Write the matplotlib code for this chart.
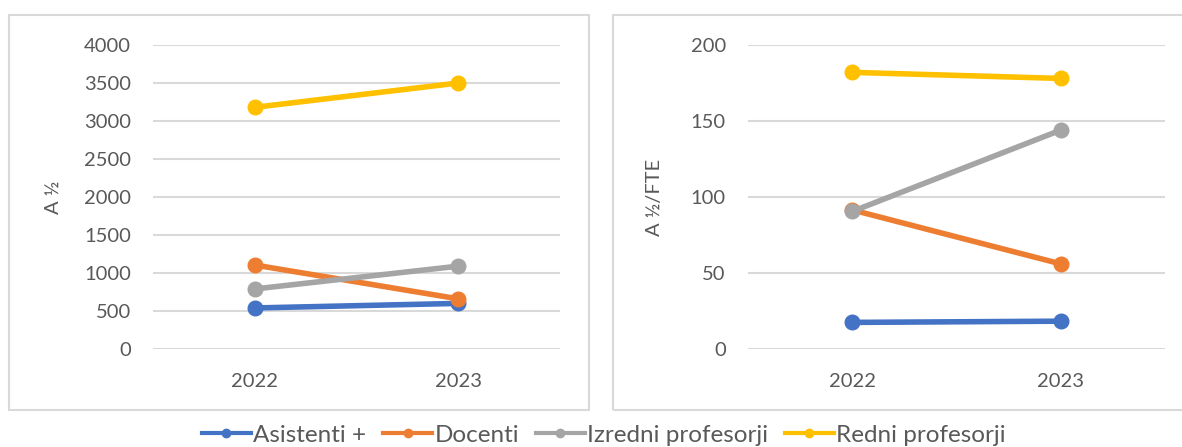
import matplotlib.pyplot as plt
from matplotlib.patches import Rectangle
from matplotlib.lines import Line2D

plt.rcParams['font.family'] = ['Lato', 'DejaVu Sans']

years = ['2022', '2023']
series_names = ['Asistenti +', 'Docenti', 'Izredni profesorji', 'Redni profesorji']
colors = ['#4472C4', '#ED7D31', '#A5A5A5', '#FFC000']

# left panel: A 1/2
left_asistenti = [540, 600]
left_docenti = [1105, 660]
left_izredni = [790, 1090]
left_redni = [3180, 3500]

# right panel: A 1/2 / FTE
right_asistenti = [17.5, 18.3]
right_docenti = [91.5, 56]
right_izredni = [90.5, 144]
right_redni = [182, 178]

left_data = [left_asistenti, left_docenti, left_izredni, left_redni]
right_data = [right_asistenti, right_docenti, right_izredni, right_redni]

text_col = '#595959'
grid_col = '#d9d9d9'

W, H = 1182, 447
fig = plt.figure(figsize=(W / 100, H / 100), dpi=100)

# chart area frames
for x0, x1 in [(9, 589), (613, 1190)]:
    fig.patches.append(Rectangle((x0 / W, 1 - 409.5 / H), (x1 - x0) / W, 394.5 / H,
                                 transform=fig.transFigure, fill=False,
                                 edgecolor=grid_col, linewidth=1.5))


def draw_panel(ax, data, ylim, yticks, ylabel):
    for vals, name, c in zip(data, series_names, colors):
        ax.plot(range(len(years)), vals, color=c, linewidth=4, marker='o',
                markersize=10.5, label=name, solid_capstyle='round')
    ax.set_xlim(-0.5, len(years) - 0.5)
    ax.set_ylim(*ylim)
    ax.set_yticks(yticks)
    ax.set_xticks(range(len(years)))
    ax.set_xticklabels(years)
    ax.grid(axis='y', color=grid_col, linewidth=1.5)
    ax.set_axisbelow(True)
    for s in ax.spines.values():
        s.set_visible(False)
    ax.tick_params(length=0, labelsize=14.5, colors=text_col)
    ax.tick_params(axis='y', pad=16)
    ax.tick_params(axis='x', pad=17)
    ax.set_ylabel(ylabel, fontsize=14.5, color=text_col)


ax1 = fig.add_axes([153 / W, 1 - 349 / H, 407 / W, 304 / H])
draw_panel(ax1, left_data, (0, 4000), range(0, 4001, 500), 'A ½')
ax1.yaxis.set_label_coords(-0.225, 0.5)

ax2 = fig.add_axes([748 / W, 1 - 349 / H, 417 / W, 304 / H])
draw_panel(ax2, right_data, (0, 200), range(0, 201, 50), 'A ½/FTE')
ax2.yaxis.set_label_coords(-0.205, 0.5)

handles = [Line2D([], [], color=c, linewidth=3, marker='o', markersize=6) for c in colors]
leg = fig.legend(handles, series_names, loc='center', bbox_to_anchor=(604 / W, 1 - 435 / H),
                 ncol=4, frameon=False, fontsize=17.5, handlelength=2.0,
                 handletextpad=0.1, columnspacing=0.7, borderaxespad=0)
for t in leg.get_texts():
    t.set_color(text_col)

fig.savefig('out.png', dpi=100)
